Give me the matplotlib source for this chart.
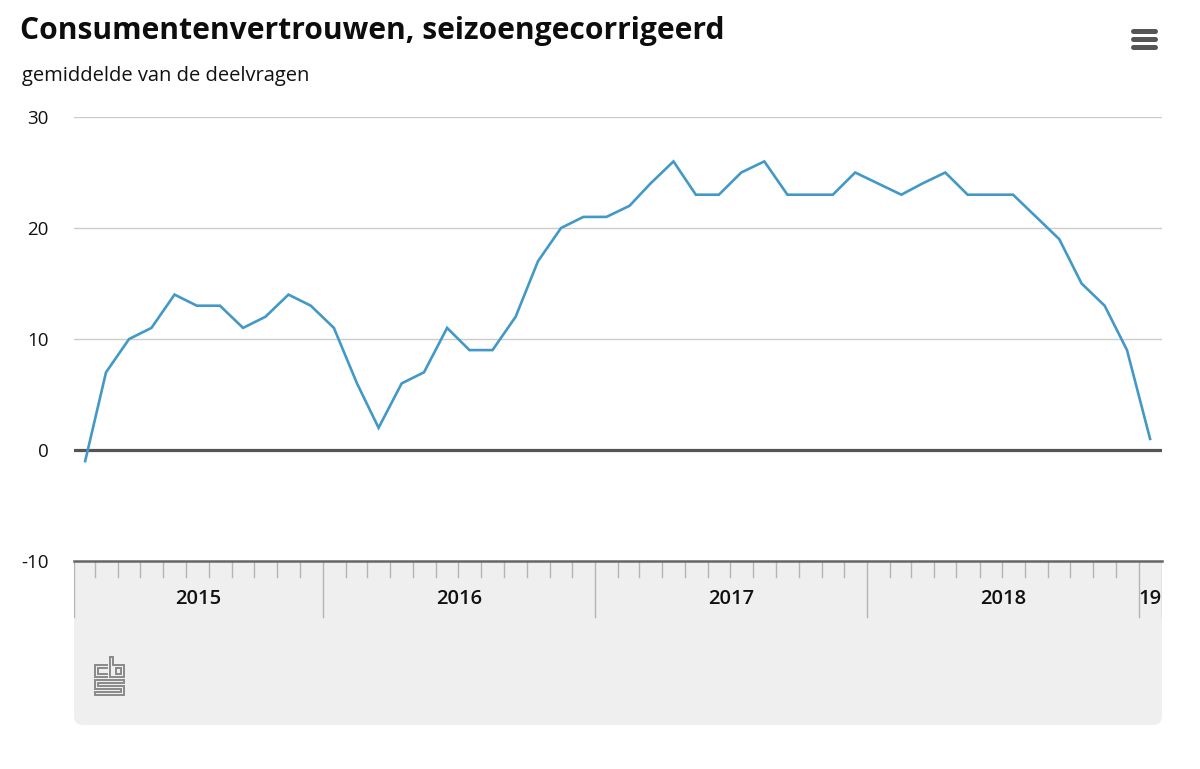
import numpy as np
import pandas as pd
import matplotlib
matplotlib.use("Agg")
import matplotlib.pyplot as plt
from matplotlib.patches import FancyBboxPatch, Rectangle

# ---------------- data ----------------
start_month = "2015-02-01"
n_months = 48
values = [-1, 7, 10, 11, 14, 13, 13, 11, 12, 14, 13,
          11, 6, 2, 6, 7, 11, 9, 9, 12, 17, 20, 21, 21,
          22, 24, 26, 23, 23, 25, 26, 23, 23, 23, 25, 24,
          23, 24, 25, 23, 23, 23, 21, 19, 15, 13, 9, 1]
y_ticks = [-10, 0, 10, 20, 30]
title = "Consumentenvertrouwen, seizoengecorrigeerd"
subtitle = "gemiddelde van de deelvragen"

months = pd.date_range(start_month, periods=n_months, freq="MS")
x_mid = months + pd.Timedelta(days=15)
x_start = months[0]
x_end = months[-1] + pd.offsets.MonthBegin(1)

FONT = ["Open Sans", "DejaVu Sans"]
plt.rcParams["font.family"] = FONT

W, H = 1200, 769
fig = plt.figure(figsize=(W / 100, H / 100), dpi=100)
fig.patch.set_facecolor("white")

def fx(px):
    return px / W

def fy(py):
    return 1 - py / H

# decoration layer in pixel coordinates
deco = fig.add_axes([0, 0, 1, 1], zorder=0)
deco.set_xlim(0, W)
deco.set_ylim(H, 0)
deco.axis("off")

band_col = "#efefef"
deco.add_patch(FancyBboxPatch((74, 561), 1088, 164,
                              boxstyle="round,pad=0,rounding_size=9",
                              facecolor=band_col, edgecolor="none"))
deco.add_patch(Rectangle((74, 561), 1088, 40, facecolor=band_col, edgecolor="none"))

# cbs logo (outline drawing)
logo_col = "#8a8a8a"
logo_paths = [
    [(107, 665), (95, 665), (95, 677), (107, 677)],
    [(107, 668), (98, 668), (98, 674), (107, 674)],
    [(110, 657), (110, 677), (124, 677), (124, 665), (113, 665), (113, 657), (110, 657)],
    [(116, 668), (121, 668), (121, 674), (116, 674), (116, 668)],
    [(124, 680), (95, 680), (95, 689), (121, 689), (121, 692), (95, 692), (95, 695),
     (124, 695), (124, 686), (98, 686), (98, 683), (124, 683), (124, 680)],
]
for p in logo_paths:
    xs, ys = zip(*p)
    deco.plot(xs, ys, color=logo_col, lw=1.4, solid_joinstyle="miter")

# hamburger menu icon
for yy in (31, 39, 47):
    deco.plot([1133, 1155], [yy, yy], color="#555555", lw=3.6, solid_capstyle="round")

# titles
fig.text(fx(20), fy(31), title, fontsize=21.6, fontweight="bold", color="#0d0d0d",
         va="center", ha="left", family=FONT)
fig.text(fx(22), fy(76), subtitle, fontsize=14.5, color="#111111",
         va="center", ha="left", family=FONT)

# ---------------- main chart ----------------
ax = fig.add_axes([fx(74), fy(561), fx(1162) - fx(74), fy(117) - fy(561)], zorder=2)
ax.set_facecolor("none")
ax.set_xlim(x_start, x_end)
ax.set_ylim(-10, 30)
for s in ax.spines.values():
    s.set_visible(False)
ax.set_yticks(y_ticks)
ax.set_yticklabels([str(t) for t in y_ticks])
ax.tick_params(axis="y", length=0, pad=18.5, labelsize=13.5, labelcolor="#111111")
for lab in ax.get_yticklabels():
    lab.set_fontfamily(FONT)
ax.set_xticks([])
for t in y_ticks:
    if t == 0:
        ax.axhline(t, color="#555555", lw=2.3, zorder=3)
    elif t == -10:
        ax.axhline(t, color="#666666", lw=1.8, zorder=3, clip_on=False)
    else:
        ax.axhline(t, color="#cccccc", lw=1.0, zorder=1)
ax.plot(x_mid, values, color="#4399c6", lw=1.9, zorder=4, clip_on=False,
        solid_joinstyle="miter")

# ---------------- time axis band ----------------
ax2 = fig.add_axes([fx(74), fy(725), fx(1162) - fx(74), fy(561) - fy(725)], zorder=1)
ax2.set_facecolor("none")
ax2.set_xlim(x_start, x_end)
ax2.set_ylim(164, 0)
ax2.axis("off")
tick_col = "#b5b5b5"
bounds = pd.date_range(x_start, x_end, freq="MS")
for b in bounds:
    if b.month == 1 or b == x_start or b == x_end:
        ax2.plot([b, b], [0, 56], color=tick_col, lw=1.0)
    else:
        ax2.plot([b, b], [0, 16], color=tick_col, lw=1.0)

years = sorted(set(months.year))
for yr in years:
    a = max(pd.Timestamp(f"{yr}-01-01"), x_start)
    b = min(pd.Timestamp(f"{yr + 1}-01-01"), x_end)
    c = a + (b - a) / 2
    label = str(yr) if (b - a).days > 60 else str(yr)[2:]
    ax2.text(c, 38, label, ha="center", va="center", fontsize=14.5,
             fontweight="semibold", color="#111111", family=FONT)

fig.savefig("out.png", dpi=100, facecolor="white")
